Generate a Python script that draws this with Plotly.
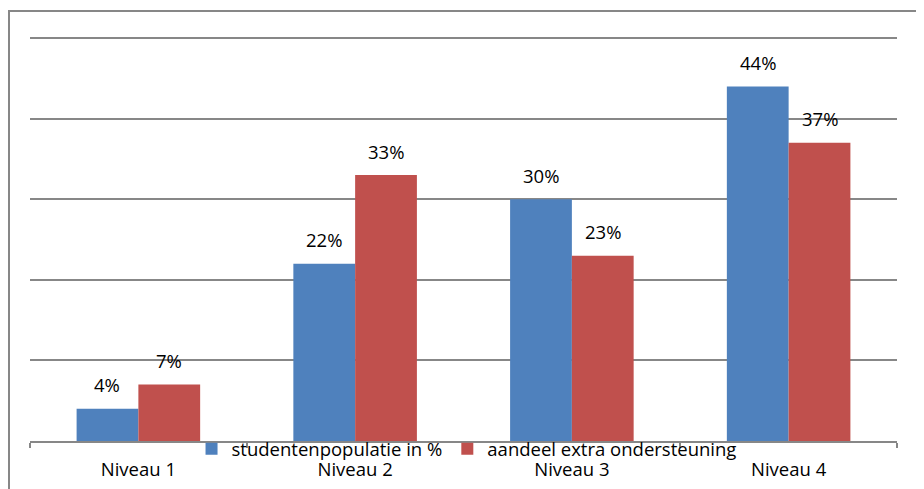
import plotly.graph_objects as go

categories = ["Niveau 1", "Niveau 2", "Niveau 3", "Niveau 4"]
studenten = [4, 22, 30, 44]
ondersteuning = [7, 33, 23, 37]
series_names = ["studentenpopulatie in %", "aandeel extra ondersteuning"]
colors = ["#4F81BD", "#C0504D"]

FONT = "Open Sans"
FS = 18.5

fig = go.Figure()
for name, vals, col in zip(series_names, [studenten, ondersteuning], colors):
    fig.add_trace(go.Bar(x=categories, y=vals, name=name, marker_color=col,
                         marker_line_width=0, hoverinfo="skip"))

# value labels
for vals, shift in [(studenten, -31), (ondersteuning, 31)]:
    for c, v in zip(categories, vals):
        fig.add_annotation(x=c, y=v, text=f"{v}%", showarrow=False, xref="x", yref="y",
                           xshift=shift, yshift=24, yanchor="middle",
                           font=dict(family=FONT, size=FS, color="#000000"))

# outer frame (plot area: 867 x 411 px)
fig.add_shape(type="rect", xref="paper", yref="paper",
              x0=-21 / 867, x1=1.06, y0=-0.2, y1=1 + 19 / 411,
              line=dict(color="#878787", width=2), fillcolor="rgba(0,0,0,0)", layer="below")

fig.update_layout(
    width=916, height=481,
    margin=dict(l=22, r=27, t=22, b=48, autoexpand=False),
    paper_bgcolor="white", plot_bgcolor="white",
    bargap=0.43, bargroupgap=0,
    font=dict(family=FONT, size=FS, color="#000000"),
    showlegend=True,
    legend=dict(orientation="h", x=0.5035, xanchor="center", y=-0.02, yanchor="middle",
                bgcolor="rgba(0,0,0,0)", font=dict(family=FONT, size=FS),
                itemwidth=30, traceorder="normal"),
)
fig.update_xaxes(showline=True, linecolor="#878787", linewidth=2, ticks="outside",
                 tickson="boundaries", ticklen=5, tickcolor="#878787", tickwidth=2,
                 ticklabelstandoff=11, showgrid=False, zeroline=False)
fig.update_yaxes(range=[0, 51], tickvals=[10, 20, 30, 40, 50], showgrid=True,
                 gridcolor="#878787", gridwidth=2,
                 showticklabels=False, showline=False, zeroline=False, ticks="")

fig.write_html("out.html")
